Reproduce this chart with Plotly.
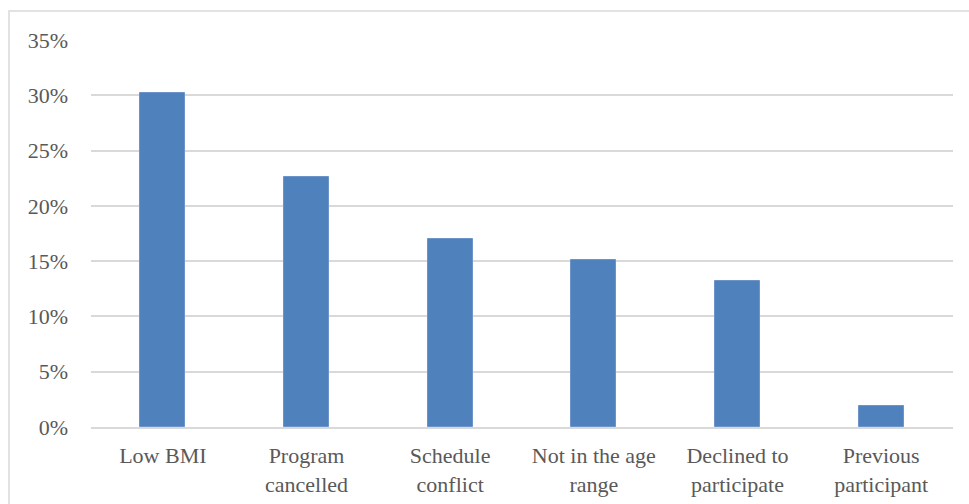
import plotly.graph_objects as go

categories = ["Low BMI", "Program<br>cancelled", "Schedule<br>conflict",
              "Not in the age<br>range", "Declined to<br>participate", "Previous<br>participant"]
values = [0.302, 0.226, 0.170, 0.151, 0.132, 0.019]

W, H = 969, 504
L, R, T, B = 91, 16, 40, 77
pw, ph = W - L - R, H - T - B

fig = go.Figure(go.Bar(
    x=categories, y=values,
    marker=dict(color="#4F81BD", line=dict(color="#6C94C8", width=1)),
    width=0.313,
))

font = dict(family="Liberation Serif", size=22, color="#595959")

fig.update_layout(
    width=W, height=H,
    margin=dict(l=L, r=R, t=T, b=B, autoexpand=False),
    paper_bgcolor="white", plot_bgcolor="white",
    font=font, showlegend=False, bargap=0,
    yaxis=dict(range=[0, 0.35], dtick=0.05, tickformat=".0%",
               showgrid=True, gridcolor="#D9D9D9", gridwidth=1.5,
               zeroline=False, showline=False, ticks="",
               ticklabelstandoff=22, fixedrange=True),
    xaxis=dict(showgrid=False, showline=True, linecolor="#D9D9D9", linewidth=1.5,
               ticks="", ticklabelstandoff=8, tickangle=0, fixedrange=True),
    shapes=[dict(type="rect", xref="paper", yref="paper",
                 x0=(9 - L) / pw, x1=(W + 5 - L) / pw,
                 y0=(H - B - (H + 5)) / ph, y1=(H - B - 11) / ph,
                 line=dict(color="#D9D9D9", width=1.5), fillcolor="rgba(0,0,0,0)",
                 layer="below")],
)

fig.write_html("out.html")
